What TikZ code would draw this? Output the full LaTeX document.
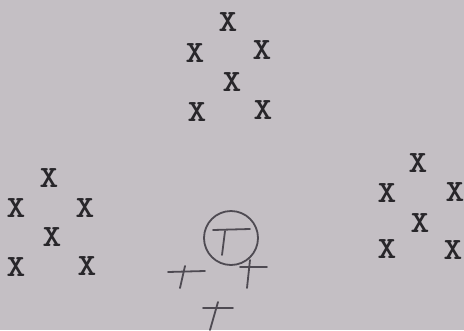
\documentclass[tikz,border=0pt]{standalone}
\usepackage{fontspec}
\definecolor{paper}{RGB}{196,191,196}
\definecolor{ink}{RGB}{40,38,42}
\definecolor{pencil}{RGB}{78,74,82}
\begin{document}
\begin{tikzpicture}[x=1pt,y=-1pt,
  xmark/.style={inner sep=0pt,text=ink,xscale=1.15,font=\ttfamily\bfseries\fontsize{31}{31}\selectfont},
  hand/.style={draw=pencil,line width=1.8pt,line cap=round}]
\fill[paper] (0,0) rectangle (464,330);
\useasboundingbox (0,0) rectangle (464,330);
% top cluster
\node[xmark] (t1) at (228,22) {X};
\node[xmark] (t2) at (195,53) {X};
\node[xmark] (t3) at (262,50) {X};
\node[xmark] (t4) at (232,82) {X};
\node[xmark] (t5) at (197,112) {X};
\node[xmark] (t6) at (263,110) {X};
% left cluster
\node[xmark] (l1) at (49,178) {X};
\node[xmark] (l2) at (16,208) {X};
\node[xmark] (l3) at (85,208) {X};
\node[xmark] (l4) at (52,237) {X};
\node[xmark] (l5) at (16,267) {X};
\node[xmark] (l6) at (87,266) {X};
% right cluster
\node[xmark] (r1) at (418,163) {X};
\node[xmark] (r2) at (387,193) {X};
\node[xmark] (r3) at (455,192) {X};
\node[xmark] (r4) at (420,223) {X};
\node[xmark] (r5) at (387,249) {X};
\node[xmark] (r6) at (453,250) {X};
% hand-drawn circled T
\draw[hand] (231,238) ellipse [x radius=27, y radius=27];
\draw[hand] (213,230) -- (250,229);
\draw[hand] (225,231) -- (222,255);
% left cross
\draw[hand] (168,272) -- (205,271);
\draw[hand] (185,266) -- (180,288);
% right cross
\draw[hand] (240,267) -- (267,267);
\draw[hand] (250,260) -- (247,288);
% bottom cross
\draw[hand] (203,308) -- (233,308);
\draw[hand] (218,302) -- (210,330);
\end{tikzpicture}
\end{document}
